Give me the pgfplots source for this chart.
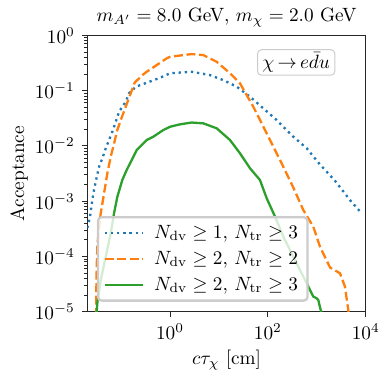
\documentclass[border=0pt]{standalone}
\usepackage{pgfplots}
\pgfplotsset{compat=1.18}

\definecolor{tabblue}{HTML}{1F77B4}
\definecolor{taborange}{HTML}{FF7F0E}
\definecolor{tabgreen}{HTML}{2CA02C}

\begin{document}
\begin{tikzpicture}
\begin{axis}[
    name=ax,
    scale only axis,
    width=144.8pt, height=143.7pt,
    xmode=log, ymode=log,
    xmin=0.0204, xmax=10000,
    ymin=1e-5, ymax=1,
    xtick={1,100,10000},
    minor xtick={},
    ytick={1e-5,1e-4,1e-3,1e-2,1e-1,1},
    tick pos=left,
    tick align=outside,
    major tick length=2.6pt,
    minor tick length=1.5pt,
    axis line style={black!85, line width=0.5pt},
    every tick/.style={black!85, line width=0.5pt},
    title={$m_{A'} = 8.0$ GeV, $m_\chi = 2.0$ GeV},
    every axis title/.style={at={(axis description cs:0.5,1.066)}, anchor=center},
    xlabel={$c\tau_\chi$ [cm]},
    ylabel={Acceptance},
    every axis x label/.style={at={(axis description cs:0.5,-0.174)}, anchor=center},
    every axis y label/.style={at={(axis description cs:-0.2445,0.5)}, anchor=center, rotate=90},
    legend style={at={(axis description cs:0.034,0.036)}, anchor=south west,
                  draw=black!20, fill=white, fill opacity=0.8, text opacity=1,
                  rounded corners=2pt, row sep=1.2pt, inner xsep=3pt, inner ysep=2pt,
                  font=\fontsize{9.6}{11.5}\selectfont},
    legend cell align=left,
    legend image code/.code={\draw[#1] (0pt,0pt) -- (20pt,0pt); \path (23pt,0pt);},
    line width=1.2pt,
]

% N_dv >= 1, N_tr >= 3
\addplot[color=tabblue, dash pattern=on 1.2pt off 2pt] coordinates {
    (0.0204, 3.27e-4) (0.0232, 5.25e-4) (0.0247, 7.96e-4) (0.0271, 1.39e-3)
    (0.0303, 2.25e-3) (0.0355, 4.21e-3) (0.0414, 5.97e-3) (0.0486, 9.06e-3)
    (0.0567, 0.0128) (0.0663, 0.0181) (0.0778, 0.0274) (0.0908, 0.0415)
    (0.1244, 0.063) (0.145, 0.0893) (0.199, 0.1177) (0.334, 0.139)
    (0.625, 0.171) (1.0, 0.206) (2.77, 0.22) (6.56, 0.191)
    (12.3, 0.155) (23.1, 0.118) (43.1, 0.0776) (80.5, 0.0479)
    (151, 0.0294) (330, 0.0147) (621, 9.06e-3) (1160, 4.6e-3)
    (2300, 2.4e-3) (4750, 1.05e-3) (8240, 6.04e-4)
};

% N_dv >= 2, N_tr >= 2
\addplot[color=taborange, dash pattern=on 4.6pt off 1.9pt] coordinates {
    (0.0312, 8e-6) (0.0312, 2.48e-5) (0.0318, 6.55e-5) (0.0327, 1.5e-4)
    (0.0355, 3.46e-4) (0.0384, 6.04e-4) (0.0449, 1.39e-3) (0.0524, 3.2e-3)
    (0.0614, 6.38e-3) (0.0718, 0.0111) (0.0838, 0.0194) (0.0984, 0.0294)
    (0.1245, 0.0512) (0.157, 0.0893) (0.19, 0.14) (0.272, 0.191)
    (0.334, 0.22) (0.857, 0.384) (1.0, 0.41) (2.77, 0.459)
    (4.79, 0.44) (9.0, 0.333) (16.8, 0.206) (26.9, 0.1355)
    (50.3, 0.0512) (94.5, 0.0169) (177, 5.56e-3) (330, 1.77e-3)
    (529, 6.93e-4) (846, 3.46e-4) (1160, 1.5e-4) (1860, 6.32e-5)
    (2970, 4.97e-5) (3760, 2.84e-5) (4600, 8e-6)
};

% N_dv >= 2, N_tr >= 3
\addplot[color=tabgreen] coordinates {
    (0.031, 8e-6) (0.0327, 1.43e-5) (0.0384, 3.76e-5) (0.0486, 9.9e-5)
    (0.0614, 2.63e-4) (0.0718, 6.04e-4) (0.0838, 1.2e-3) (0.106, 2.42e-3)
    (0.130, 3.66e-3) (0.165, 5.56e-3) (0.209, 8.43e-3) (0.334, 0.0128)
    (0.456, 0.0147) (0.729, 0.0194) (1.0, 0.0222) (1.6, 0.0246)
    (2.77, 0.0265) (4.79, 0.0256) (9.0, 0.0208) (16.8, 0.0128)
    (26.9, 7.35e-3) (43.1, 3.94e-3) (68.8, 2.42e-3) (94.5, 1.13e-3)
    (140, 5.25e-4) (207, 2.28e-4) (330, 9.9e-5) (453, 5.7e-5)
    (621, 3.28e-5) (846, 1.88e-5) (993, 1.75e-5) (1070, 1.63e-5)
    (1300, 8e-6)
};

\legend{{$N_{\mathrm{dv}} \geq 1,\, N_{\mathrm{tr}} \geq 3$},
        {$N_{\mathrm{dv}} \geq 2,\, N_{\mathrm{tr}} \geq 2$},
        {$N_{\mathrm{dv}} \geq 2,\, N_{\mathrm{tr}} \geq 3$}}

\node[draw=black!20, fill=white, rounded corners=2pt, line width=0.5pt,
      inner xsep=2.5pt, inner ysep=1.5pt, font=\fontsize{9.8}{11}\selectfont]
      at (axis description cs:0.750,0.902) {$\chi\,{\to}\,e\bar{d}u$};

\end{axis}
\pgfresetboundingbox
\useasboundingbox ([xshift=-45.4pt,yshift=-37.6pt]ax.south west)
    rectangle ([xshift=12.6pt,yshift=18.4pt]ax.north east);
\end{tikzpicture}
\end{document}
